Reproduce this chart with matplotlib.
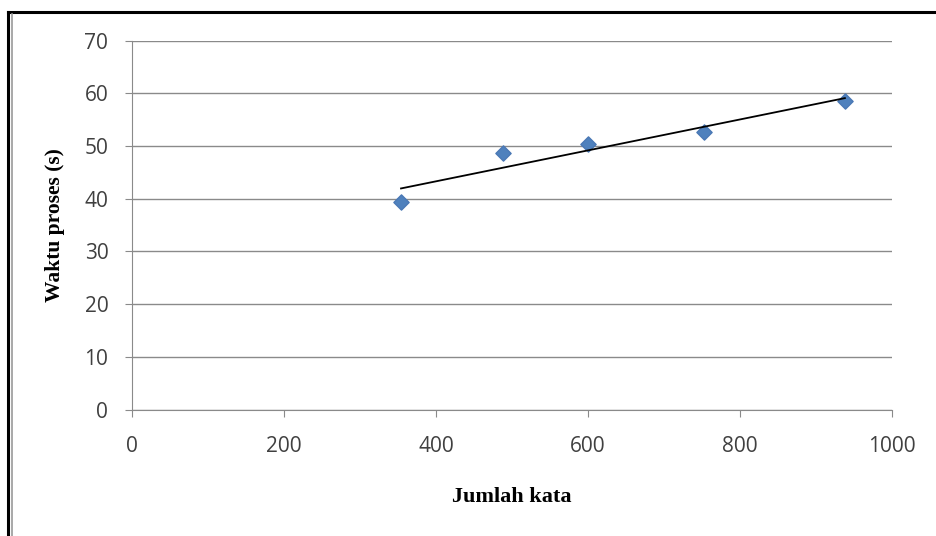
import matplotlib.pyplot as plt
import numpy as np
from matplotlib.lines import Line2D

# jumlah kata vs waktu proses
jumlah_kata = [354, 488, 600, 752, 938]
waktu_proses = [39.4, 48.7, 50.4, 52.7, 58.6]

fig = plt.figure(figsize=(9.36, 5.36), dpi=100)
ax = fig.add_axes([0.141, 0.236, 0.812, 0.688])

ax.set_xlim(0, 1000)
ax.set_ylim(0, 70)
ax.set_xticks(np.arange(0, 1001, 200))
ax.set_yticks(np.arange(0, 71, 10))
ax.yaxis.grid(True, color='#8a8a8a', linewidth=1)
ax.set_axisbelow(True)

for s in ['top', 'right']:
    ax.spines[s].set_visible(False)
for s in ['left', 'bottom']:
    ax.spines[s].set_color('#8a8a8a')
ax.tick_params(axis='both', colors='#8a8a8a', length=5, labelcolor='#404040',
               labelsize=15)
ax.tick_params(axis='x', pad=14)
ax.tick_params(axis='y', pad=12)
for lbl in ax.get_xticklabels() + ax.get_yticklabels():
    lbl.set_family('Open Sans')

ax.scatter(jumlah_kata, waktu_proses, marker='D', s=60, color='#4f81bd',
           edgecolors='#4a78b5', zorder=3)

# garis tren linear
k, b = np.polyfit(jumlah_kata, waktu_proses, 1)
xt = np.array([min(jumlah_kata), max(jumlah_kata)])
ax.plot(xt, k * xt + b, color='black', linewidth=1.3, zorder=4)

ax.set_xlabel('Jumlah kata', family='Liberation Serif', fontweight='bold',
              fontsize=16, labelpad=22)
ax.set_ylabel('Waktu proses (s)', family='Liberation Serif', fontweight='bold',
              fontsize=15.5, labelpad=14)

# bingkai
fig.add_artist(Line2D([8/936, 1], [1 - 12/536, 1 - 12/536], color='black', linewidth=2.2))
fig.add_artist(Line2D([8/936, 8/936], [0, 1 - 12/536], color='black', linewidth=2.2))
fig.add_artist(Line2D([12/936, 12/936], [0, 1 - 14/536], color='#999999', linewidth=1.2))

fig.savefig('out.png', dpi=100)
